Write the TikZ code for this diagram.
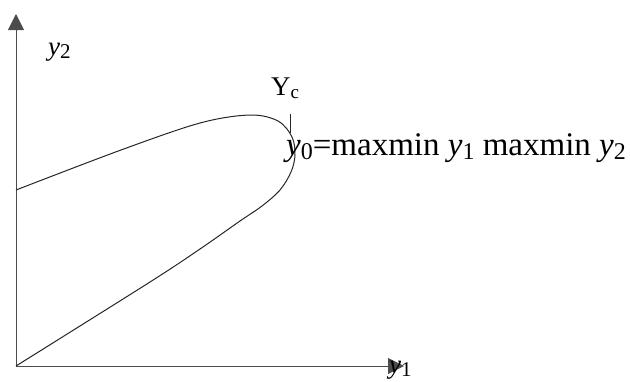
\documentclass[tikz,border=0pt]{standalone}
\usepackage{fontspec}
\setmainfont{Liberation Serif}
\usetikzlibrary{arrows.meta}
\newcommand\mysubsc[2]{\raisebox{-0.14em}{\fontsize{#1}{#1}\selectfont #2}}
\tikzset{
  axis/.style={line width=1pt, draw=black!70, -{Triangle[length=16pt,width=16pt]}},
  curve/.style={line width=1pt, draw=black!85},
  lbl/.style={inner sep=0pt, anchor=base west, font=\fontsize{27}{30}\selectfont},
  biglbl/.style={inner sep=0pt, anchor=base west, font=\fontsize{33}{36}\selectfont}
}
\begin{document}
\begin{tikzpicture}[x=1pt,y=-1pt]
\useasboundingbox (0,0) rectangle (630,381);
\coordinate (O) at (16,366);
\coordinate (ytip) at (16,14);
\coordinate (xtip) at (404,366);
\draw[axis] (O) -- (ytip);
\draw[axis] (O) -- (xtip);
\draw[curve] plot[smooth, tension=0.55] coordinates {(16,190) (121,150) (200,123) (250,115) (278,121) (292,137) (295,155) (291,172) (280,190) (262,206) (240,221) (200,249) (150,282) (16,366)};
\coordinate (t1) at (290,114);
\coordinate (t2) at (290,133);
\draw[curve] (t1) -- (t2);
\node[lbl] (ly2) at (48,55) {\textit{y}\mysubsc{21}{2}};
\node[lbl] (lyc) at (271,95) {Y\mysubsc{19}{c}};
\node[lbl] (ly1) at (389,373) {\textit{y}\mysubsc{21}{1}};
\node[biglbl] (ly0) at (286,155) {\textit{y}\mysubsc{24}{0}=maxmin \textit{y}\mysubsc{24}{1} maxmin \textit{y}\mysubsc{24}{2}};
\end{tikzpicture}
\end{document}
